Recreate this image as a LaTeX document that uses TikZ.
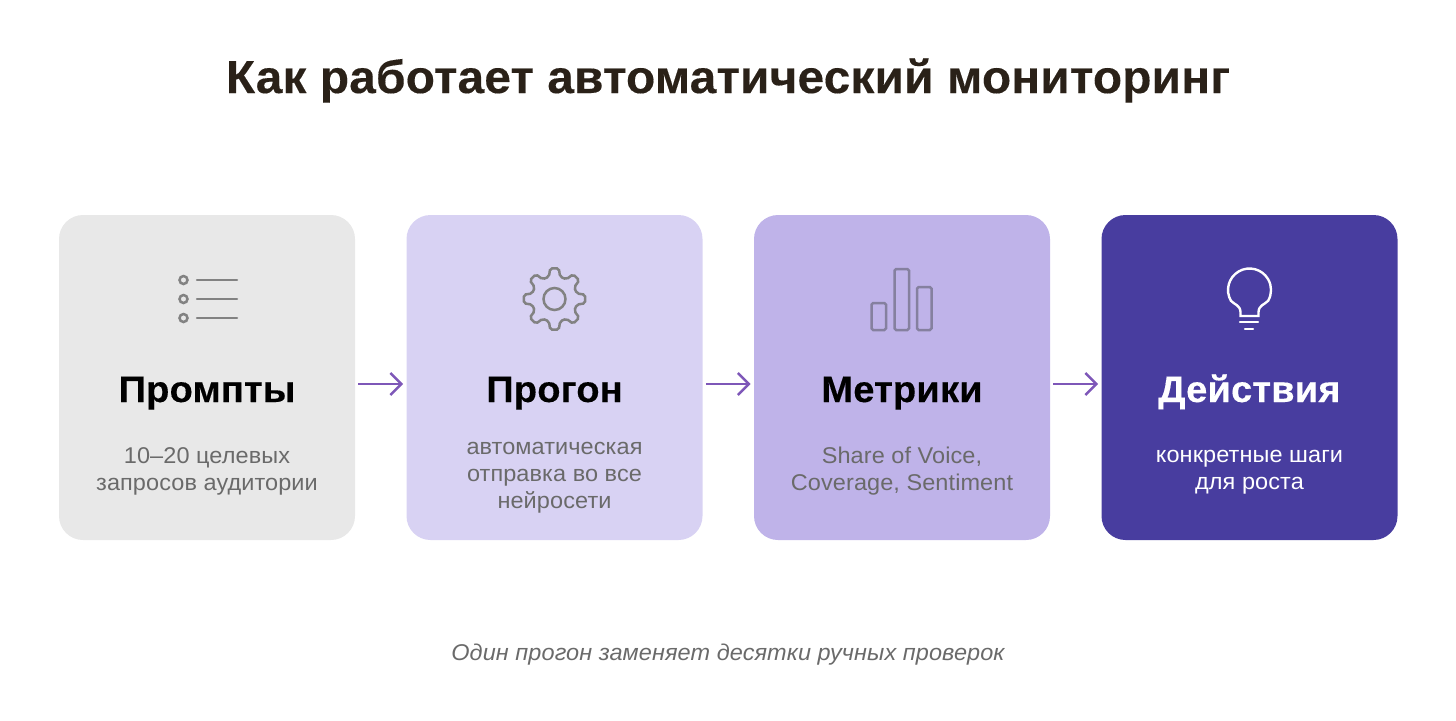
\documentclass[tikz,border=0pt]{standalone}
\usepackage{fontspec}
\setmainfont[FakeStretch=1.03,LetterSpace=0.4,BoldFeatures={FakeBold=0.25}]{Liberation Sans}
\definecolor{inkdark}{HTML}{2A2118}
\definecolor{cardgrey}{HTML}{E8E8E8}
\definecolor{cardpale}{HTML}{D8D2F3}
\definecolor{cardmid}{HTML}{BFB3E9}
\definecolor{carddeep}{HTML}{483D9F}
\definecolor{flowline}{HTML}{7E57B8}
\definecolor{icongrey}{HTML}{828282}
\definecolor{iconviolet}{HTML}{85809F}
\definecolor{bodygrey}{HTML}{6A6A6A}
\usetikzlibrary{arrows.meta}
\tikzset{
  card/.style={rectangle,rounded corners=12pt,minimum width=148pt,minimum height=162.5pt,inner sep=0pt},
  heading/.style={anchor=base,font=\fontsize{18.5}{22}\selectfont\bfseries,inner sep=0pt},
  body/.style={font=\fontsize{11.4}{13.6}\selectfont,align=center,inner sep=0pt,text=bodygrey},
  flow/.style={flowline,line width=1.2pt,-{Straight Barb[length=5.5pt,width=11pt,line width=1.2pt]},shorten <=1.5pt,shorten >=1.5pt},
  icon/.style={icongrey,line width=1.25pt}
}
\begin{document}
\begin{tikzpicture}[x=0.5pt,y=-0.5pt]
    \useasboundingbox (0,0) rectangle (1456,720);

    \node[anchor=base,inner sep=0pt,text=inkdark,font=\fontsize{23.2}{30}\selectfont\bfseries] (title) at (728,93) {Как работает автоматический мониторинг};

    \node[card,fill=cardgrey] (A) at (207,377.5) {};
    \node[card,fill=cardpale] (B) at (554.5,377.5) {};
    \node[card,fill=cardmid] (C) at (902,377.5) {};
    \node[card,fill=carddeep] (D) at (1249.5,377.5) {};

    \node[heading] (Ah) at (207,402) {Промпты};
    \node[heading] (Bh) at (554.5,402) {Прогон};
    \node[heading] (Ch) at (902,402) {Метрики};
    \node[heading,text=white] (Dh) at (1249.5,402) {Действия};

    \node[body] (At) at (207,471) {10–20 целевых\\запросов аудитории};
    \node[body] (Bt) at (554.5,477.5) {автоматическая\\отправка во все\\нейросети};
    \node[body] (Ct) at (902,471) {Share of Voice,\\Coverage, Sentiment};
    \node[body,text=white] (Dt) at (1249.5,472) {конкретные шаги\\для роста};

    \draw ([yshift=-3.25pt]A.east) edge[flow] ([yshift=-3.25pt]B.west);
    \draw ([yshift=-3.25pt]B.east) edge[flow] ([yshift=-3.25pt]C.west);
    \draw ([yshift=-3.25pt]C.east) edge[flow] ([yshift=-3.25pt]D.west);

    \node[inner sep=0pt,text=bodygrey,font=\fontsize{11.4}{14}\selectfont\itshape] (note) at (728,655) {Один прогон заменяет десятки ручных проверок};

    % list
    \foreach \y in {280,299,318} {
      \draw[icon] (183.5,\y) circle (4);
      \draw[icon,line cap=round] (197,\y) -- (237,\y);
    }
    % gear
    \begin{scope}[shift={(554.5,299)}]
      \draw[icon,rounded corners=1pt] (-14:23)
        \foreach \a in {0,45,...,270} {
          -- (\a-8:31) -- (\a+8:31) -- (\a+14:23) -- (\a+31:23)
        } -- (307:31) -- (323:31) -- (329:23) -- cycle;
      \draw[icon] (0,0) circle (11);
    \end{scope}
    % bars
    \draw[icon,iconviolet,rounded corners=0.8pt] (871.5,303) rectangle (886,330);
    \draw[icon,iconviolet,rounded corners=0.8pt] (894.5,269) rectangle (909,330);
    \draw[icon,iconviolet,rounded corners=0.8pt] (917,287) rectangle (931.5,330);
    % lamp
    \begin{scope}[white,line width=1.2pt,line cap=round]
      \draw (1240.5,316) -- (1240.5,312) .. controls (1240,305) and (1235,305) .. (1230.9,300.75)
        arc[start angle=150,end angle=390,radius=21.5]
        .. controls (1264,305) and (1259,305) .. (1258.5,312) -- (1258.5,316) -- cycle;
      \draw (1240,322) -- (1258,322);
      \draw (1245,329) -- (1253,329);
    \end{scope}
\end{tikzpicture}
\end{document}
